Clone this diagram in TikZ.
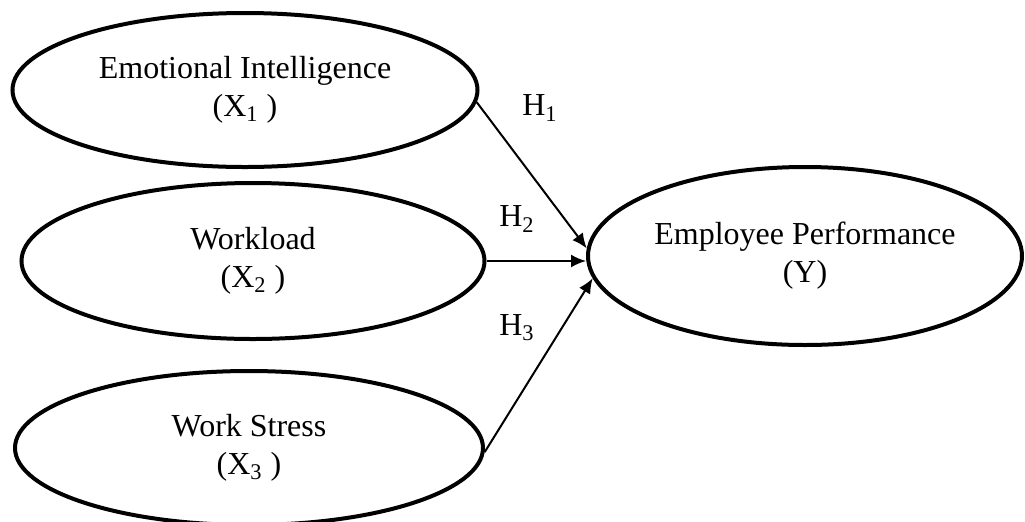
\documentclass[tikz,border=0pt]{standalone}
\usepackage{fontspec}
\setmainfont{Liberation Serif}
\usetikzlibrary{arrows.meta,shapes.geometric}
\tikzset{
  construct/.style={draw, ellipse, line width=2pt, inner sep=0pt, align=center,
    font=\fontsize{16}{19}\selectfont},
  hyp/.style={font=\fontsize{16}{19}\selectfont, inner sep=0pt},
  flow/.style={-{Latex[length=7.5pt,width=6.5pt]}, line width=1pt},
}

\begin{document}
\begin{tikzpicture}[x=0.5pt,y=-0.5pt]
    \useasboundingbox (0,0) rectangle (1025,521);
    \node[construct, minimum width=232.5pt, minimum height=77pt] (emo) at (245,90) {Emotional Intelligence\\(X\textsubscript{1} )};
    \node[construct, minimum width=231.5pt, minimum height=78pt] (load) at (253,261) {Workload\\(X\textsubscript{2} )};
    \node[construct, minimum width=234pt, minimum height=77pt] (stress) at (249,448) {Work Stress\\(X\textsubscript{3} )};
    \node[construct, minimum width=217pt, minimum height=89pt] (perf) at (805,256) {Employee Performance\\(Y)};
    \node[hyp] (h1) at (540,108) {H\textsubscript{1}};
    \node[hyp] (h2) at (517,219) {H\textsubscript{2}};
    \node[hyp] (h3) at (517,328) {H\textsubscript{3}};
    \draw[flow] (emo.-3) -- (perf.178);
    \draw[flow] (load.east) -- (load.east -| perf.west);
    \draw[flow] (stress.-1) -- (perf.186);
  \end{tikzpicture}
\end{document}
